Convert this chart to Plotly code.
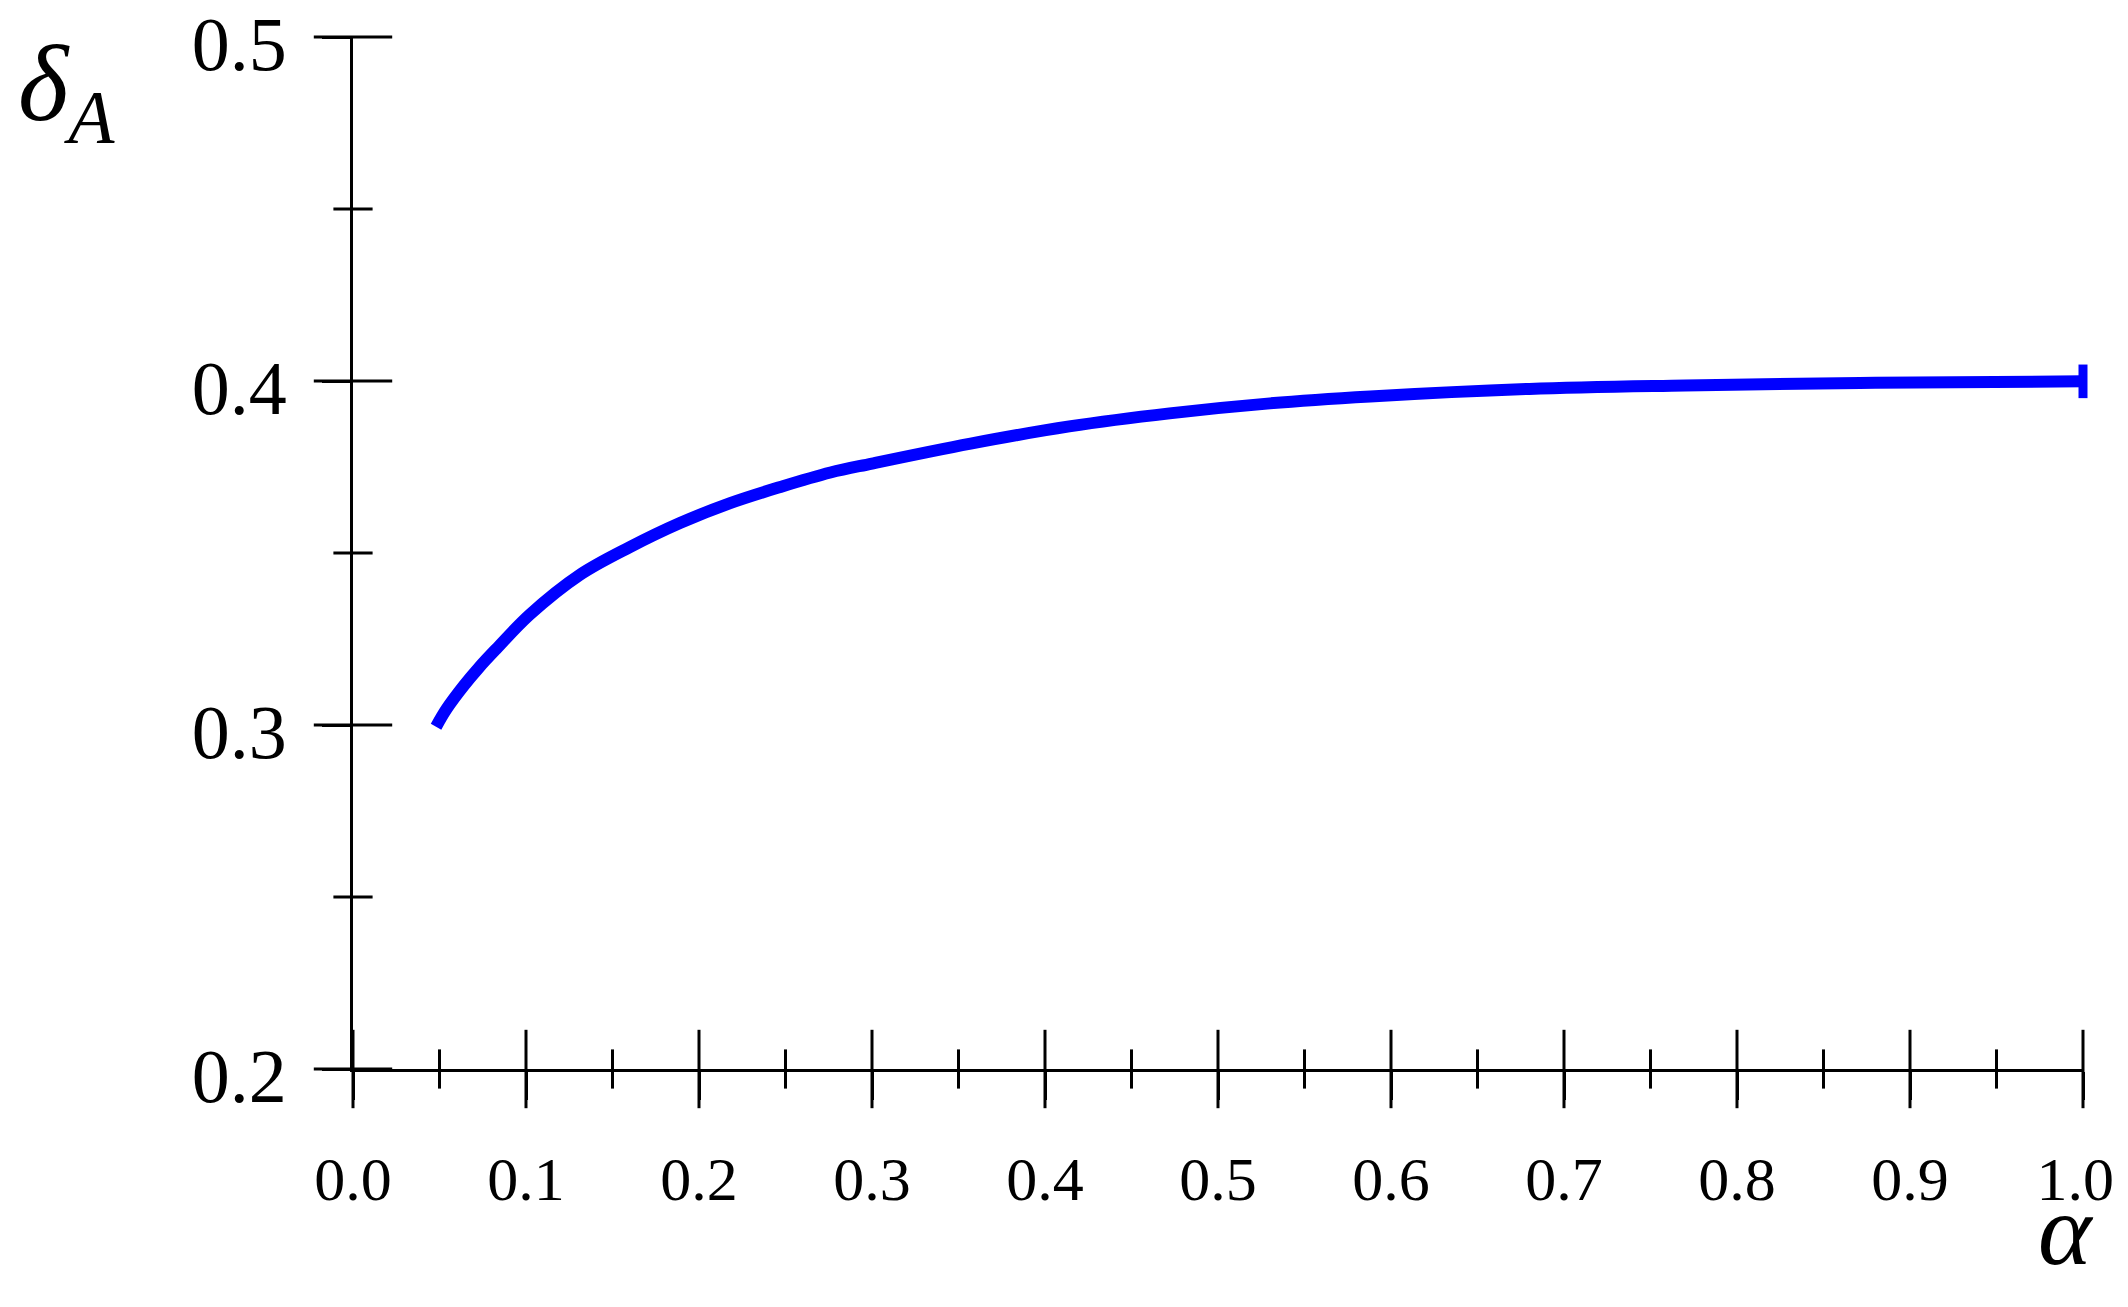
import plotly.graph_objs as go

# curve
alpha = [0.048, 0.054, 0.064, 0.073, 0.083, 0.102, 0.131, 0.160, 0.189, 0.218,
         0.247, 0.276, 0.300, 0.357, 0.414, 0.472, 0.530, 0.588, 0.680, 0.770,
         0.880, 1.000]
delta_a = [0.2995, 0.3046, 0.3114, 0.3168, 0.3222, 0.3320, 0.3436, 0.3517,
           0.3587, 0.3645, 0.3692, 0.3734, 0.3760, 0.3818, 0.3868, 0.3906,
           0.3935, 0.3955, 0.3977, 0.3987, 0.3995, 0.3999]

# axis ticks
x_major = [0.0, 0.1, 0.2, 0.3, 0.4, 0.5, 0.6, 0.7, 0.8, 0.9, 1.0]
x_minor = [0.05, 0.15, 0.25, 0.35, 0.45, 0.55, 0.65, 0.75, 0.85, 0.95]
y_major = [0.2, 0.3, 0.4, 0.5]
y_minor = [0.25, 0.35, 0.45]
# last label sits a little left of its tick in the original
x_labels = ["0.0", "0.1", "0.2", "0.3", "0.4", "0.5", "0.6", "0.7", "0.8",
            "0.9", "1.0\u00a0"]

x_range = [0, 1]
y_range = [0.2, 0.5]

serif = "Liberation Serif"
W, H = 2112, 1291
L, T = 345, 29
R = W - L - 1730
B = H - T - 1032

fig = go.Figure()


def tick_marks(x, y, symbol, size):
    # crossing tick marks drawn as line markers on the axes
    fig.add_trace(go.Scatter(
        x=x, y=y, mode="markers", cliponaxis=False,
        marker=dict(symbol=symbol, size=size, color="black",
                    line=dict(color="black", width=3)),
        showlegend=False, hoverinfo="skip",
    ))


tick_marks(x_major, [y_range[0]] * len(x_major), "line-ns", 56)
tick_marks(x_minor, [y_range[0]] * len(x_minor), "line-ns", 28)
tick_marks([x_range[0]] * len(y_major), y_major, "line-ew", 56)
tick_marks([x_range[0]] * len(y_minor), y_minor, "line-ew", 28)

fig.add_trace(go.Scatter(
    x=alpha, y=delta_a, mode="lines",
    line=dict(color="#0000ff", width=12, shape="spline"),
    showlegend=False, hoverinfo="skip",
))
# little cap at the end of the curve
fig.add_trace(go.Scatter(
    x=alpha[-1:], y=delta_a[-1:], mode="markers", cliponaxis=False,
    marker=dict(symbol="line-ns", size=24, line=dict(color="#0000ff", width=9)),
    showlegend=False, hoverinfo="skip",
))

axis_common = dict(showline=True, linecolor="black", linewidth=3,
                   ticks="outside", tickcolor="black", tickwidth=3, ticklen=28,
                   automargin=False, showgrid=False, zeroline=False,
                   ticklabeloverflow="allow")

fig.update_layout(
    width=W, height=H,
    margin=dict(l=L, r=R, t=T, b=B, pad=0),
    paper_bgcolor="white", plot_bgcolor="white",
    font=dict(family=serif, color="black"),
    xaxis=dict(range=x_range, tickmode="array", tickvals=x_major,
               ticktext=x_labels, tickfont=dict(family=serif, size=62),
               ticklabelstandoff=26, **axis_common),
    yaxis=dict(range=y_range, dtick=0.1, tick0=0, tickformat=".1f",
               tickfont=dict(family=serif, size=76),
               ticklabelstandoff=20, ticklabelshift=6, **axis_common),
    annotations=[
        dict(text="<i>δ<sub>A</sub></i>", xref="paper", yref="paper",
             x=-0.195, y=0.947, xanchor="left", yanchor="middle",
             showarrow=False, font=dict(family=serif, size=108)),
        dict(text="<i>α</i>", xref="paper", yref="paper",
             x=0.990, y=-0.156, xanchor="center", yanchor="middle",
             showarrow=False, font=dict(family=serif, size=102)),
    ],
)

fig.write_html("out.html")
